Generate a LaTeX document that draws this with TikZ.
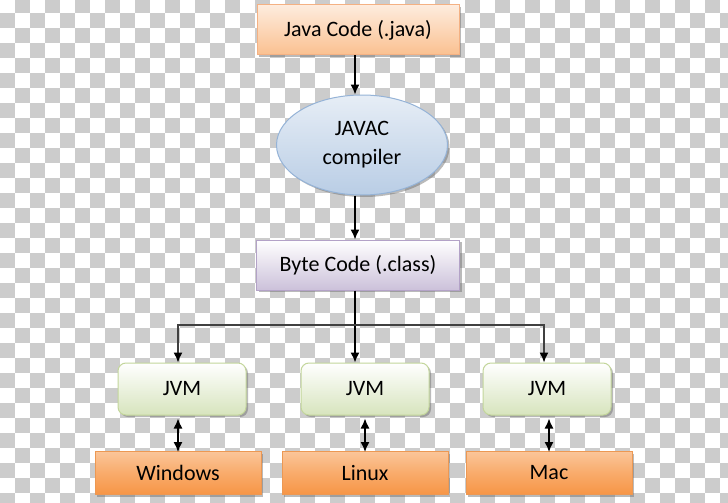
\documentclass[tikz,border=0pt]{standalone}
\usepackage{fontspec}
\setmainfont{Carlito}
\usepackage{xcolor}
\usepackage{tikz}
\usetikzlibrary{shapes.geometric,arrows.meta,shadows}
\definecolor{javapeach}{RGB}{250,192,144}
\definecolor{javaedge}{RGB}{244,177,131}
\definecolor{javacblue}{RGB}{185,205,229}
\definecolor{javacedge}{RGB}{149,179,215}
\definecolor{bytelilac}{RGB}{204,193,218}
\definecolor{byteedge}{RGB}{179,162,199}
\definecolor{jvmgreen}{RGB}{215,228,189}
\definecolor{jvmedge}{RGB}{195,214,155}
\definecolor{osorange}{RGB}{247,150,70}
\definecolor{osedge}{RGB}{228,108,10}
\definecolor{checkgrey}{RGB}{204,204,204}
\tikzset{
  boxshadow/.style={drop shadow={shadow xshift=2pt, shadow yshift=-2pt, fill=black!60, opacity=0.45}},
  boxfont/.style={font=\fontsize{22pt}{29pt}\selectfont, text=black},
  sourcebox/.style={rectangle, boxfont, draw=javaedge, line width=1pt, top color=javapeach!30, bottom color=javapeach, minimum width=202pt, minimum height=50pt, boxshadow},
  compilerblob/.style={ellipse, boxfont, align=center, draw=javacedge, line width=1pt, top color=javacblue!35, bottom color=javacblue, minimum width=171pt, minimum height=100pt, inner sep=0pt, boxshadow},
  bytebox/.style={rectangle, boxfont, draw=byteedge, line width=1pt, top color=white, bottom color=bytelilac, minimum width=203pt, minimum height=50pt, boxshadow},
  jvmbox/.style={rectangle, rounded corners=8pt, boxfont, draw=jvmedge, line width=1pt, top color=white, bottom color=jvmgreen, minimum width=128pt, minimum height=52pt, boxshadow},
  osbox/.style={rectangle, boxfont, draw=osedge!70, line width=1pt, top color=osorange!55, bottom color=osorange, middle color=osorange!80, minimum width=166pt, minimum height=43pt, boxshadow},
  flow/.style={-{Latex[length=10pt,width=9pt,color=black]}, line width=1.4pt, black},
  twoway/.style={{Latex[length=10pt,width=9pt]}-{Latex[length=10pt,width=9pt]}, line width=1.4pt, black}
}
\begin{document}
\begin{tikzpicture}[x=1pt, y=-1pt]
\useasboundingbox (0,0) rectangle (728,503);

% Background
\begin{scope}
\clip (0,0) rectangle (728,503);
\fill[white] (0,0) rectangle (728,503);
\foreach \i in {0,...,48}
  \foreach \j in {0,...,34}{
    \pgfmathparse{int(mod(\i+\j,2))}
    \ifnum\pgfmathresult=1
      \fill[checkgrey] (15*\i,15*\j-1.7) rectangle ++(15,15);
    \fi
  }
\end{scope}

% Nodes
\node[sourcebox] (java) at (358,30) {Java Code (.java)};
\node[compilerblob] (javac) at (362,145) {JAVAC\\compiler};
\node[bytebox] (byte) at (358,265) {Byte Code (.class)};
\node[jvmbox] (jvm1) at (182,389) {JVM};
\node[jvmbox] (jvm2) at (365,389) {JVM};
\node[jvmbox] (jvm3) at (547,389) {JVM};
\node[osbox] (win) at (178,473) {Windows};
\node[osbox] (linux) at (365,473) {Linux};
\node[osbox] (mac) at (549,473) {Mac};
\coordinate (split) at (355,325);

% Edges
\draw[flow] (java.south -| split) -- (javac.north -| split);
\draw[flow] (javac.south -| split) -- (byte.north -| split);
\draw[flow] (byte.south -| split) -- (jvm2.north -| split);
\draw[flow, draw=black!75] (split) -| ([xshift=-4pt]jvm1.north);
\draw[flow, draw=black!75] (split) -| ([xshift=-3pt]jvm3.north);
\draw[twoway] ([yshift=-3pt]win.north |- jvm1.south) -- ([yshift=-1pt]win.north);
\draw[twoway] ([yshift=-3pt]linux.north |- jvm2.south) -- ([yshift=-1pt]linux.north);
\draw[twoway] ([yshift=-3pt]mac.north |- jvm3.south) -- ([yshift=-1pt]mac.north);
\end{tikzpicture}
\end{document}
